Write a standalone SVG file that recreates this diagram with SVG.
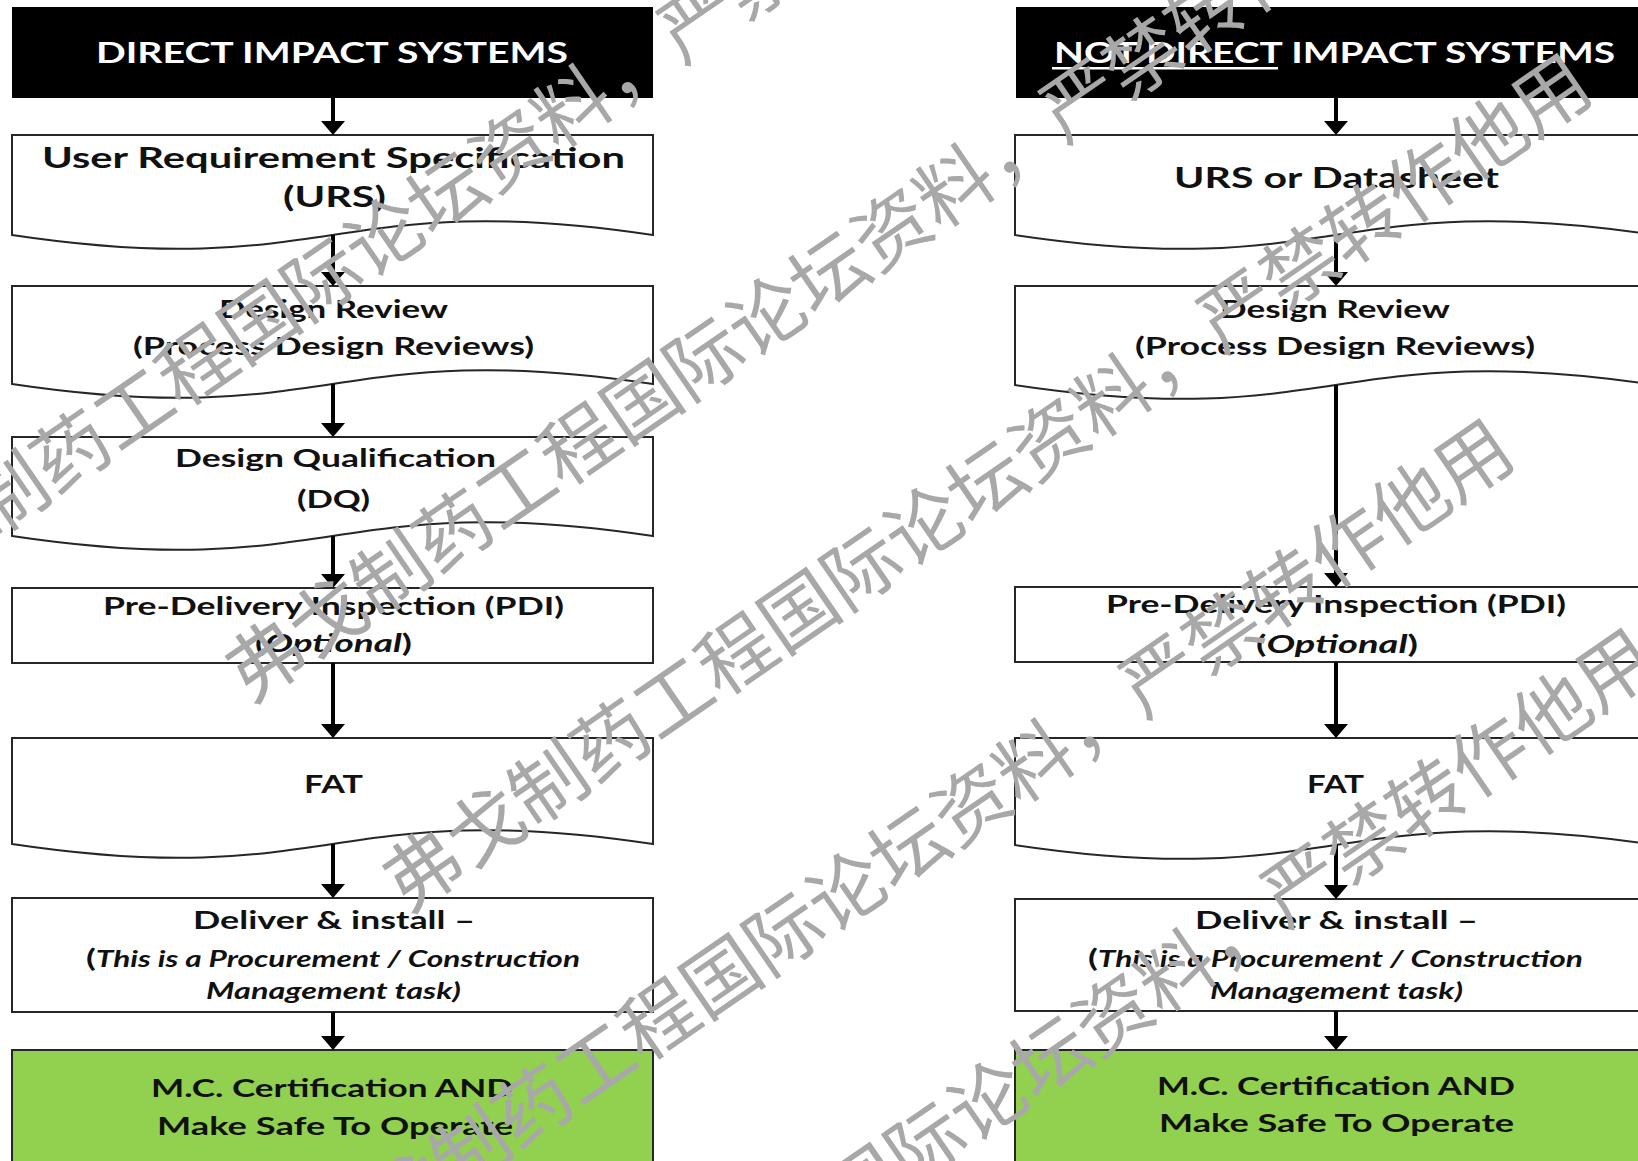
<svg xmlns="http://www.w3.org/2000/svg" width="1638" height="1161" viewBox="0 0 1638 1161">
<style>
.box{fill:#fff;stroke:#262626;stroke-width:2}
.hdr{fill:#000}
.grn{fill:#92d050;stroke:#262626;stroke-width:2}
.t{font-family:Lato,"Open Sans","Liberation Sans",sans-serif;font-weight:bold;fill:#111;text-anchor:middle}
.h{font-size:28px;fill:#fff}
.l{font-size:29px}
.m{font-size:25px}
.s{font-size:22px;font-style:italic}
.it{font-style:italic}
.con line{stroke:#000;stroke-width:4}
.wm{font-family:"Noto Sans CJK SC","Noto Sans CJK JP",sans-serif;font-size:76px;fill:#a8a8a8}
</style>
<defs>
<marker id="ah" viewBox="0 0 14 24" markerWidth="14" markerHeight="24" refX="2" refY="12" orient="auto" markerUnits="userSpaceOnUse">
<path d="M0,0 L14,12 L0,24 Z" fill="#000"/>
</marker>
</defs>
<rect width="1638" height="1161" fill="#fff"/>

<g id="left-header">
<rect class="hdr" x="12" y="7" width="641" height="91"/>
<text class="t h" x="332" y="63" textLength="472" lengthAdjust="spacingAndGlyphs">DIRECT IMPACT SYSTEMS</text>
</g>
<g id="left-urs">
<path class="box" d="M12,135 H653 V235 C332.5,187 332.5,283 12,235 Z"/>
<text class="t l" x="333.5" y="168" textLength="583" lengthAdjust="spacingAndGlyphs">User Requirement Specification</text>
<text class="t l" x="334.5" y="207" textLength="103" lengthAdjust="spacingAndGlyphs">(URS)</text>
</g>
<g id="left-design-review">
<path class="box" d="M12,286 H653 V384 C332.5,336 332.5,432 12,384 Z"/>
<text class="t m" x="333.5" y="318" textLength="229" lengthAdjust="spacingAndGlyphs">Design Review</text>
<text class="t m" x="333.5" y="355" textLength="401" lengthAdjust="spacingAndGlyphs">(Process Design Reviews)</text>
</g>
<g id="left-dq">
<path class="box" d="M12,437 H653 V536 C332.5,488 332.5,584 12,536 Z"/>
<text class="t m" x="335.5" y="467" textLength="321" lengthAdjust="spacingAndGlyphs">Design Qualification</text>
<text class="t m" x="333.5" y="508" textLength="73" lengthAdjust="spacingAndGlyphs">(DQ)</text>
</g>
<g id="left-pdi">
<rect class="box" x="12" y="588" width="641" height="75"/>
<text class="t m" x="333.5" y="615" textLength="461" lengthAdjust="spacingAndGlyphs">Pre-Delivery Inspection (PDI)</text>
<text class="t m" x="333.5" y="652" textLength="157" lengthAdjust="spacingAndGlyphs">(<tspan class="it">Optional</tspan>)</text>
</g>
<g id="left-fat">
<path class="box" d="M12,738 H653 V844 C332.5,796 332.5,892 12,844 Z"/>
<text class="t m" x="333.5" y="793" textLength="59" lengthAdjust="spacingAndGlyphs">FAT</text>
</g>
<g id="left-deliver">
<rect class="box" x="12" y="898" width="641" height="114"/>
<text class="t m" x="334" y="929" textLength="282" lengthAdjust="spacingAndGlyphs">Deliver &amp; install –</text>
<text class="t m" x="333" y="967" textLength="494" lengthAdjust="spacingAndGlyphs">(<tspan class="s">This is a Procurement / Construction</tspan></text>
<text class="t s" x="333.5" y="999" textLength="255" lengthAdjust="spacingAndGlyphs">Management task)</text>
</g>
<g id="left-mc">
<rect class="grn" x="12" y="1050" width="641" height="130"/>
<text class="t m" x="332" y="1097" textLength="362" lengthAdjust="spacingAndGlyphs">M.C. Certification AND</text>
<text class="t m" x="335" y="1135" textLength="356" lengthAdjust="spacingAndGlyphs">Make Safe To Operate</text>
</g>

<g id="right-header">
<rect class="hdr" x="1016" y="7" width="640" height="91"/>
<text class="t h" x="1334.5" y="63" textLength="561" lengthAdjust="spacingAndGlyphs">NOT DIRECT IMPACT SYSTEMS</text>
<rect x="1052" y="67" width="226" height="2.5" fill="#fff"/>
</g>
<g id="right-urs">
<path class="box" d="M1015,135 H1656 V235 C1335.5,187 1335.5,283 1015,235 Z"/>
<text class="t l" x="1336.5" y="188" textLength="325" lengthAdjust="spacingAndGlyphs">URS or Datasheet</text>
</g>
<g id="right-design-review">
<path class="box" d="M1015,286 H1656 V385 C1335.5,337 1335.5,433 1015,385 Z"/>
<text class="t m" x="1335" y="318" textLength="230" lengthAdjust="spacingAndGlyphs">Design Review</text>
<text class="t m" x="1335" y="355" textLength="400" lengthAdjust="spacingAndGlyphs">(Process Design Reviews)</text>
</g>
<g id="right-pdi">
<rect class="box" x="1015" y="587" width="641" height="75"/>
<text class="t m" x="1336" y="613" textLength="460" lengthAdjust="spacingAndGlyphs">Pre-Delivery Inspection (PDI)</text>
<text class="t m" x="1337" y="653" textLength="162" lengthAdjust="spacingAndGlyphs">(<tspan class="it">Optional</tspan>)</text>
</g>
<g id="right-fat">
<path class="box" d="M1015,738 H1656 V845 C1335.5,797 1335.5,893 1015,845 Z"/>
<text class="t m" x="1335.5" y="793" textLength="57" lengthAdjust="spacingAndGlyphs">FAT</text>
</g>
<g id="right-deliver">
<rect class="box" x="1015" y="899" width="641" height="112"/>
<text class="t m" x="1336.5" y="929" textLength="283" lengthAdjust="spacingAndGlyphs">Deliver &amp; install –</text>
<text class="t m" x="1335.5" y="967" textLength="495" lengthAdjust="spacingAndGlyphs">(<tspan class="s">This is a Procurement / Construction</tspan></text>
<text class="t s" x="1336.5" y="999" textLength="253" lengthAdjust="spacingAndGlyphs">Management task)</text>
</g>
<g id="right-mc">
<rect class="grn" x="1015" y="1050" width="641" height="130"/>
<text class="t m" x="1336" y="1095" textLength="358" lengthAdjust="spacingAndGlyphs">M.C. Certification AND</text>
<text class="t m" x="1336.5" y="1132" textLength="355" lengthAdjust="spacingAndGlyphs">Make Safe To Operate</text>
</g>

<g id="connectors" class="con">
<line x1="333" y1="98" x2="333" y2="123" marker-end="url(#ah)"/>
<line x1="333" y1="235" x2="333" y2="274" marker-end="url(#ah)"/>
<line x1="333" y1="384" x2="333" y2="425" marker-end="url(#ah)"/>
<line x1="333" y1="536" x2="333" y2="576" marker-end="url(#ah)"/>
<line x1="333" y1="663" x2="333" y2="726" marker-end="url(#ah)"/>
<line x1="333" y1="844" x2="333" y2="886" marker-end="url(#ah)"/>
<line x1="333" y1="1012" x2="333" y2="1038" marker-end="url(#ah)"/>
<line x1="1336" y1="98" x2="1336" y2="123" marker-end="url(#ah)"/>
<line x1="1336" y1="235" x2="1336" y2="274" marker-end="url(#ah)"/>
<line x1="1336" y1="385" x2="1336" y2="575" marker-end="url(#ah)"/>
<line x1="1336" y1="662" x2="1336" y2="726" marker-end="url(#ah)"/>
<line x1="1336" y1="845" x2="1336" y2="887" marker-end="url(#ah)"/>
<line x1="1336" y1="1011" x2="1336" y2="1038" marker-end="url(#ah)"/>
</g>

<g id="watermark" class="wm" transform="rotate(-34.5)">
<text x="-463" y="440">弗戈制药工程国际论坛资料，严禁转作他用</text>
<text x="-193" y="722">弗戈制药工程国际论坛资料，严禁转作他用</text>
<text x="-182" y="984">弗戈制药工程国际论坛资料，严禁转作他用</text>
<text x="-453" y="1241">弗戈制药工程国际论坛资料，严禁转作他用</text>
<text x="-455" y="1494">弗戈制药工程国际论坛资料，严禁转作他用</text>
</g>
</svg>
